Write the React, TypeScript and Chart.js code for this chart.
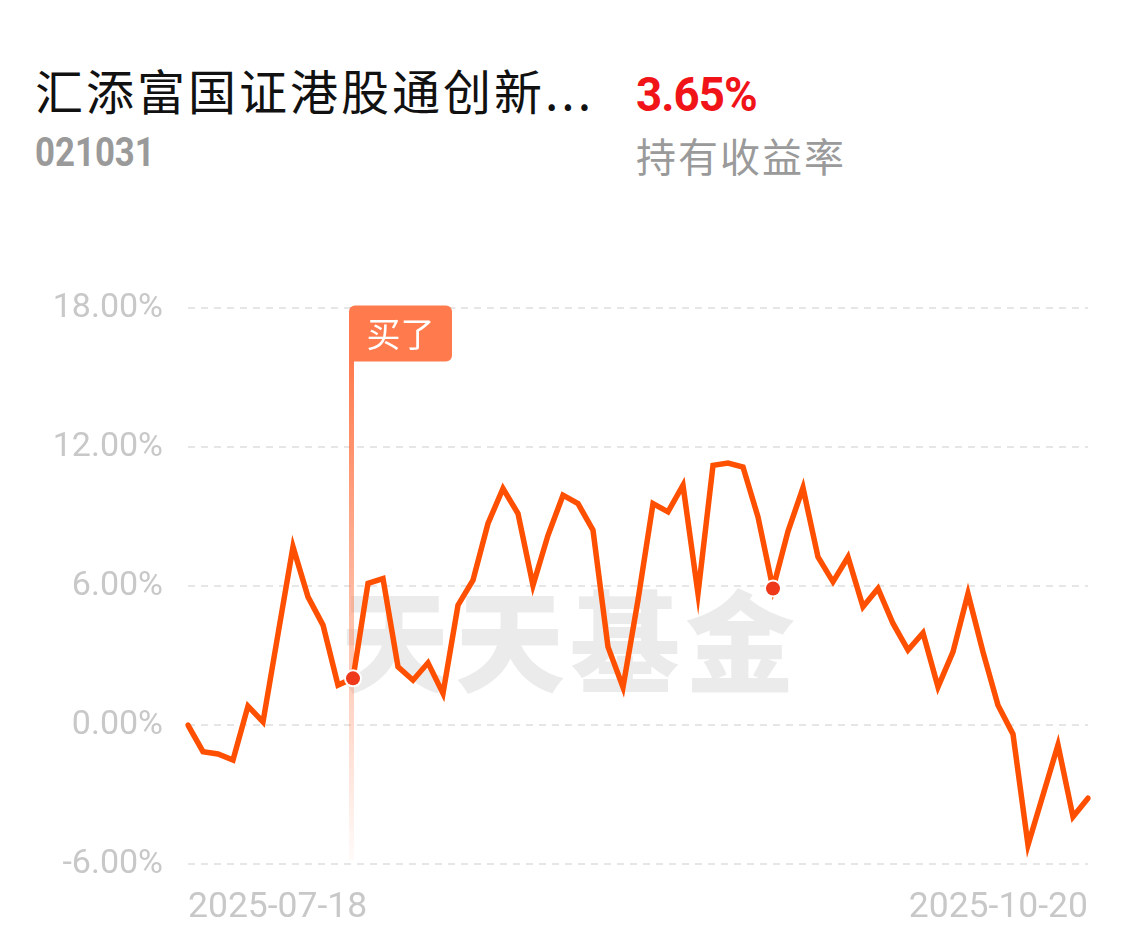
import React, { useEffect, useRef } from "react";
import { Chart, registerables } from "chart.js";

Chart.register(...registerables);

const fundName = "汇添富国证港股通创新...";
const fundCode = "021031";
const holdingReturn = "3.65%";
const holdingReturnLabel = "持有收益率";
const watermarkChars = ["天", "天", "基", "金"];
const buyLabel = "买了";

const dates = [
  "2025-07-18", "2025-07-21", "2025-07-22", "2025-07-23", "2025-07-24", "2025-07-25",
  "2025-07-28", "2025-07-29", "2025-07-30", "2025-07-31", "2025-08-01",
  "2025-08-04", "2025-08-05", "2025-08-06", "2025-08-07", "2025-08-08",
  "2025-08-11", "2025-08-12", "2025-08-13", "2025-08-14", "2025-08-15",
  "2025-08-18", "2025-08-19", "2025-08-20", "2025-08-21", "2025-08-22",
  "2025-08-25", "2025-08-26", "2025-08-27", "2025-08-28", "2025-08-29",
  "2025-09-01", "2025-09-02", "2025-09-03", "2025-09-04", "2025-09-05",
  "2025-09-08", "2025-09-09", "2025-09-10", "2025-09-11", "2025-09-12",
  "2025-09-15", "2025-09-16", "2025-09-17", "2025-09-18", "2025-09-19",
  "2025-09-22", "2025-09-23", "2025-09-24", "2025-09-25", "2025-09-26",
  "2025-09-29", "2025-09-30",
  "2025-10-09", "2025-10-10", "2025-10-13", "2025-10-14", "2025-10-15",
  "2025-10-16", "2025-10-17", "2025-10-20",
];

const returns = [
  0.0, -1.15, -1.25, -1.51, 0.82, 0.14, 3.93, 7.7, 5.54, 4.32, 1.73,
  2.02, 6.12, 6.33, 2.52, 1.94, 2.69, 1.37, 5.18, 6.26, 8.71,
  10.22, 9.14, 6.04, 8.2, 9.93, 9.57, 8.42, 3.38, 1.64, 5.4,
  9.57, 9.21, 10.36, 5.68, 11.22, 11.32, 11.15, 8.99, 5.9, 8.37,
  10.25, 7.26, 6.19, 7.26, 5.11, 5.9, 4.39, 3.24, 3.98, 1.65,
  3.16, 5.68, 3.16, 0.86, -0.39, -5.18, -3.02, -0.86, -3.96, -3.16,
];

const yMin = -6;
const yMax = 18;
const yStep = 6;
const buyIndex = 11;
const markerIndex = 39;

const LINE_COLOR = "#ff4f00";
const DOT_COLOR = "#ee3a1a";
const FLAG_COLOR = "#ff7b4e";

const CANVAS_TOP = 263;
const CANVAS_H = 949 - CANVAS_TOP;

const decorPlugin = {
  id: "decor",
  beforeDatasetsDraw(chart: any) {
    const { ctx, scales, chartArea } = chart;
    const xs = scales.x;
    const t = chartArea.top; // page y 308
    ctx.save();
    // watermark
    ctx.fillStyle = "rgba(0,0,0,0.08)";
    ctx.font = '900 110px "Noto Sans CJK SC"';
    ctx.textAlign = "center";
    ctx.textBaseline = "middle";
    watermarkChars.forEach((c, i) => ctx.fillText(c, 395 + i * 115, t + 334));

    // buy line
    const bx = xs.getPixelForValue(buyIndex) - 1.5;
    const top = t + 53;
    const bottom = t + 552;
    const g = ctx.createLinearGradient(0, top, 0, bottom);
    g.addColorStop(0, "rgba(255,123,78,1)");
    g.addColorStop(0.45, "rgba(255,123,78,0.55)");
    g.addColorStop(1, "rgba(255,123,78,0.03)");
    ctx.strokeStyle = g;
    ctx.lineWidth = 5;
    ctx.beginPath();
    ctx.moveTo(bx, top - 4);
    ctx.lineTo(bx, bottom);
    ctx.stroke();

    // flag
    const fx = bx - 2.5;
    const fy = t - 3;
    const fw = 103;
    const fh = 56;
    ctx.fillStyle = FLAG_COLOR;
    ctx.beginPath();
    (ctx as any).roundRect(fx, fy, fw, fh, [6, 6, 6, 0]);
    ctx.fill();
    ctx.fillStyle = "#ffffff";
    ctx.font = '34px "Noto Sans CJK SC"';
    ctx.textAlign = "center";
    ctx.textBaseline = "middle";
    ctx.fillText(buyLabel, fx + fw / 2, fy + fh / 2 + 1);
    ctx.restore();
  },
  afterDatasetsDraw(chart: any) {
    const { ctx, scales } = chart;
    ctx.save();
    [buyIndex, markerIndex].forEach((i) => {
      const px = scales.x.getPixelForValue(i);
      const py = scales.y.getPixelForValue(returns[i]);
      ctx.fillStyle = "#ffffff";
      ctx.beginPath();
      ctx.arc(px, py, 9, 0, Math.PI * 2);
      ctx.fill();
      ctx.fillStyle = DOT_COLOR;
      ctx.beginPath();
      ctx.arc(px, py, 7, 0, Math.PI * 2);
      ctx.fill();
    });
    ctx.restore();
  },
};

function ReturnChart() {
  const ref = useRef<HTMLCanvasElement | null>(null);
  useEffect(() => {
    if (!ref.current) return;
    const chart = new Chart(ref.current, {
      type: "line",
      data: {
        labels: dates,
        datasets: [
          {
            data: returns,
            borderColor: LINE_COLOR,
            borderWidth: 5.5,
            pointRadius: 0,
            tension: 0,
            fill: false,
            borderJoinStyle: "miter",
            borderCapStyle: "round",
          },
        ],
      },
      options: {
        responsive: false,
        animation: false,
        devicePixelRatio: 1,
        layout: { padding: { top: 11, right: 50, left: 0, bottom: 0 } },
        plugins: { legend: { display: false }, tooltip: { enabled: false } },
        scales: {
          x: {
            offset: false,
            grid: { display: false, drawTicks: false },
            border: { display: false },
            afterFit: (s: any) => {
              s.height = 85;
            },
            ticks: {
              autoSkip: false,
              maxRotation: 0,
              minRotation: 0,
              align: "inner",
              padding: 23,
              color: "#c8c8c8",
              font: { family: "Roboto", size: 35.5 },
              callback: (_v: any, i: number) =>
                i === 0 || i === dates.length - 1 ? dates[i] : "",
            },
          },
          y: {
            min: yMin,
            max: yMax,
            afterFit: (s: any) => {
              s.width = 188;
            },
            grid: {
              color: "#e6e6e6",
              lineWidth: 2,
              drawTicks: false,
            },
            border: { display: false, dash: [7, 6] },
            ticks: {
              stepSize: yStep,
              padding: 25,
              color: "#c8c8c8",
              font: { family: "Roboto", size: 34 },
              callback: (v: any) => Number(v).toFixed(2) + "%",
            },
          },
        },
      },
      plugins: [decorPlugin],
    });
    return () => chart.destroy();
  }, []);
  return (
    <canvas
      ref={ref}
      width={1138}
      height={CANVAS_H}
      style={{ position: "absolute", left: 0, top: CANVAS_TOP, width: 1138, height: CANVAS_H }}
    />
  );
}

export default function App() {
  return (
    <div
      style={{
        position: "absolute",
        left: 0,
        top: 0,
        width: 1138,
        height: 949,
        background: "#ffffff",
        overflow: "hidden",
      }}
    >
      <div
        style={{
          position: "absolute",
          left: 35,
          top: 65,
          fontFamily: '"Noto Sans CJK SC", sans-serif',
          fontSize: 48,
          lineHeight: "48px",
          letterSpacing: 3,
          color: "#111111",
          whiteSpace: "nowrap",
        }}
      >
        {fundName}
      </div>
      <div
        style={{
          position: "absolute",
          left: 35,
          top: 133,
          fontFamily: "Roboto, sans-serif",
          fontWeight: 700,
          fontSize: 40,
          lineHeight: "40px",
          color: "#9a9a9a",
          whiteSpace: "nowrap",
          transform: "scaleX(0.87)",
          transformOrigin: "left center",
        }}
      >
        {fundCode}
      </div>
      <div
        style={{
          position: "absolute",
          left: 636,
          top: 71,
          fontFamily: "Roboto, sans-serif",
          fontWeight: 700,
          fontSize: 48,
          lineHeight: "48px",
          letterSpacing: -1,
          color: "#f01419",
          whiteSpace: "nowrap",
          transform: "scaleX(0.95)",
          transformOrigin: "left center",
        }}
      >
        {holdingReturn}
      </div>
      <div
        style={{
          position: "absolute",
          left: 636,
          top: 135,
          fontFamily: '"Noto Sans CJK SC", sans-serif',
          fontSize: 40,
          lineHeight: "40px",
          letterSpacing: 2,
          color: "#9a9a9a",
          whiteSpace: "nowrap",
        }}
      >
        {holdingReturnLabel}
      </div>
      <ReturnChart />
    </div>
  );
}
